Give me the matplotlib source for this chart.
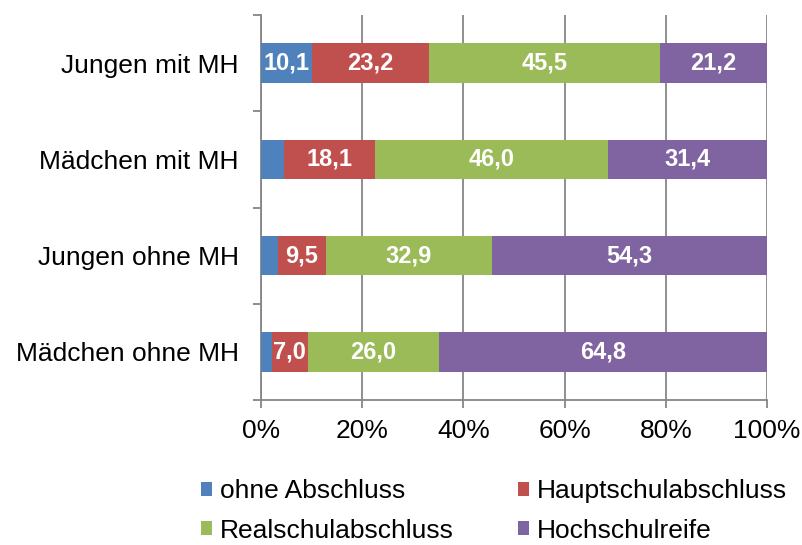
import matplotlib.pyplot as plt
import numpy as np

plt.rcParams['font.family'] = ['Liberation Sans', 'DejaVu Sans']

# Gruppen (von oben nach unten)
gruppen = ["Jungen mit MH", "Mädchen mit MH", "Jungen ohne MH", "Mädchen ohne MH"]
abschluesse = ["ohne Abschluss", "Hauptschulabschluss", "Realschulabschluss", "Hochschulreife"]
ohne = [10.1, 4.5, 3.3, 2.2]
haupt = [23.2, 18.1, 9.5, 7.0]
real = [45.5, 46.0, 32.9, 26.0]
hoch = [21.2, 31.4, 54.3, 64.8]
farben = ["#4F81BD", "#C0504D", "#9BBB59", "#8064A2"]
zeige_wert = [[True, False, False, False], [True] * 4, [True] * 4, [True] * 4]

werte = [ohne, haupt, real, hoch]

fig = plt.figure(figsize=(8.03, 5.45), dpi=100)
ax = fig.add_axes([261 / 803, 1 - 400 / 545, 506 / 803, 385 / 545])

y = np.arange(len(gruppen))
links = np.zeros(len(gruppen))
balken = []
for i, (name, vals, col) in enumerate(zip(abschluesse, werte, farben)):
    vals = np.array(vals)
    b = ax.barh(y, vals, left=links, height=0.41, color=col, label=name, zorder=3)
    balken.append(b)
    for j, v in enumerate(vals):
        if zeige_wert[i][j]:
            ax.text(links[j] + v / 2, y[j], f"{v:.1f}".replace(".", ","),
                    ha="center", va="center", color="white", fontsize=17,
                    fontweight="bold", zorder=4)
    links += vals

ax.set_xlim(0, 100)
ax.set_ylim(len(gruppen) - 0.5, -0.5)
ax.set_xticks(np.arange(0, 101, 20))
ax.set_xticklabels([f"{t}%" for t in range(0, 101, 20)], fontsize=19)
ax.set_yticks(y)
ax.set_yticklabels(gruppen, fontsize=19)
ax.set_yticks(np.arange(-0.5, len(gruppen)), minor=True)
ax.tick_params(axis="y", which="major", length=0, pad=16)
ax.tick_params(axis="y", which="minor", length=6, color="#868686", width=1.3)
ax.tick_params(axis="x", length=6, color="#868686", width=1.3, pad=8)

ax.grid(axis="x", color="#868686", linewidth=1.3, zorder=0)
for s in ["top", "right"]:
    ax.spines[s].set_visible(False)
for s in ["left", "bottom"]:
    ax.spines[s].set_color("#868686")
    ax.spines[s].set_linewidth(1.3)

# Legende zeilenweise: ohne / Haupt, Real / Hoch
reihenfolge = [0, 2, 1, 3]
fig.legend([balken[k] for k in reihenfolge], [abschluesse[k] for k in reihenfolge],
           loc="center", bbox_to_anchor=(494 / 803, 1 - 511 / 545), ncol=2,
           frameon=False, fontsize=19, handlelength=0.45, handleheight=0.45,
           handletextpad=0.3, columnspacing=2.4, labelspacing=0.58,
           borderpad=0, borderaxespad=0)

fig.savefig("out.png", dpi=100)
